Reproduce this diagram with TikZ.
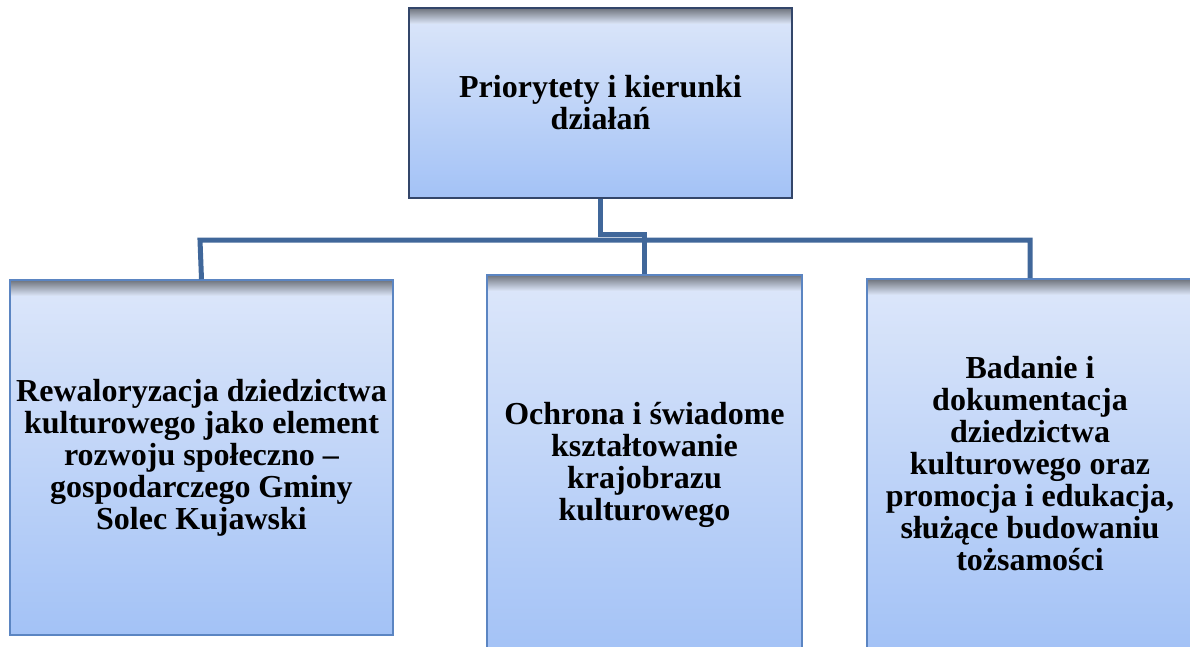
\documentclass[tikz,border=0pt]{standalone}
\usepackage{fontspec}
\setmainfont{Liberation Serif}
\usepackage{tikz}

\definecolor{boxtop}{HTML}{DDE7FA}
\definecolor{boxbot}{HTML}{A3C2F6}
\definecolor{shadowc}{HTML}{6E737C}
\definecolor{darkedge}{HTML}{33466A}
\definecolor{blueedge}{HTML}{5B85C2}
\definecolor{linkc}{HTML}{40679A}

\begin{document}
\begin{tikzpicture}[x=1pt,y=-1pt,
    box/.style={rectangle, draw=blueedge, line width=1.6pt,
      top color=boxtop, bottom color=boxbot, inner sep=0pt,
      font=\fontsize{32}{32}\selectfont\bfseries, align=center,
      path picture={\foreach \i in {0,...,15}{
        \pgfmathsetmacro\mix{100-\i*6.25}
        \fill[shadowc!\mix!boxtop]
          ([yshift=-\i pt]path picture bounding box.north west) rectangle
          ([yshift=-\i pt-1.3pt]path picture bounding box.north east);}}},
    link/.style={draw=linkc, line width=5pt}]
    \useasboundingbox (0,0) rectangle (1190,646);
    \clip (0,0) rectangle (1190,646);
    \node[box, draw=darkedge, minimum width=383pt, minimum height=190pt] (prio) at (600.5,103)
      {Priorytety i kierunki\\działań};
    \node[box, minimum width=383pt, minimum height=355pt] (rewal) at (201.5,457.5)
      {Rewaloryzacja dziedzictwa\\kulturowego jako element\\rozwoju społeczno –\\gospodarczego Gminy\\Solec Kujawski};
    \node[box, minimum width=315pt, minimum height=380pt] (ochrona) at (644.5,465)
      {Ochrona i świadome\\kształtowanie\\krajobrazu\\kulturowego};
    \node[box, minimum width=326pt, minimum height=370pt] (badanie) at (1030,464)
      {Badanie i\\dokumentacja\\dziedzictwa\\kulturowego oraz\\promocja i edukacja,\\służące budowaniu\\tożsamości};
    \coordinate (busl) at (200,240);
    \coordinate (busr) at (1030,240);
    \draw[link] (rewal.north) -- (busl) -- (busr) -- (badanie.north);
    \draw[link] (prio.south) -- ++(0,36) -| (ochrona.north);
\end{tikzpicture}
\end{document}
